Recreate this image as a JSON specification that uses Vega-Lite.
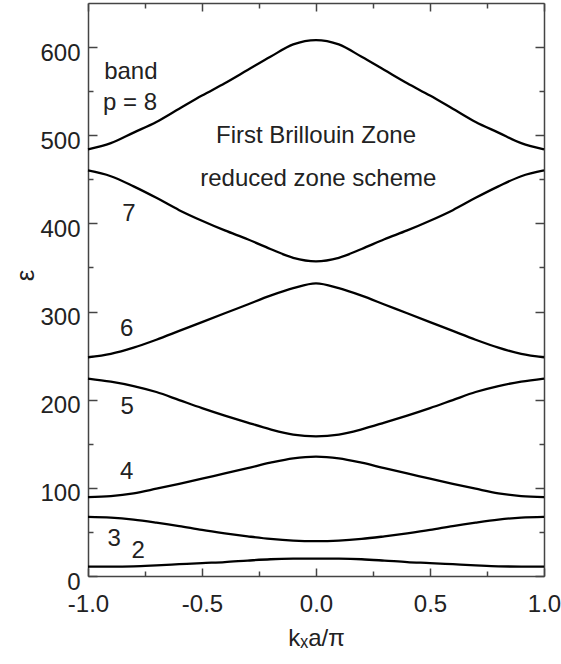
{
  "$schema": "https://vega.github.io/schema/vega-lite/v6.json",
  "width": 456,
  "height": 573,
  "autosize": "none",
  "padding": {"left": 88, "top": 3, "right": 17, "bottom": 88},
  "config": {
    "view": {"stroke": null},
    "font": "Liberation Sans",
    "axis": {
      "grid": false,
      "domainColor": "#444444",
      "domainWidth": 1.5,
      "tickColor": "#444444",
      "tickWidth": 1.5,
      "labelFont": "Liberation Sans",
      "labelFontSize": 24,
      "labelColor": "#222222",
      "titleFont": "Liberation Sans",
      "titleFontSize": 24,
      "titleFontWeight": "normal",
      "titleColor": "#222222",
      "labelFlush": false,
      "labelOverlap": false
    }
  },
  "datasets": {
    "bands": [
      {"band": 8, "k": -1.0, "e": 484}, {"band": 8, "k": -0.9, "e": 491}, {"band": 8, "k": -0.8, "e": 503}, {"band": 8, "k": -0.7, "e": 515}, {"band": 8, "k": -0.6, "e": 530}, {"band": 8, "k": -0.5, "e": 545}, {"band": 8, "k": -0.4, "e": 559}, {"band": 8, "k": -0.3, "e": 574}, {"band": 8, "k": -0.2, "e": 589}, {"band": 8, "k": -0.1, "e": 603}, {"band": 8, "k": 0.0, "e": 608},
      {"band": 8, "k": 0.1, "e": 603}, {"band": 8, "k": 0.2, "e": 589}, {"band": 8, "k": 0.3, "e": 574}, {"band": 8, "k": 0.4, "e": 559}, {"band": 8, "k": 0.5, "e": 545}, {"band": 8, "k": 0.6, "e": 530}, {"band": 8, "k": 0.7, "e": 515}, {"band": 8, "k": 0.8, "e": 503}, {"band": 8, "k": 0.9, "e": 491}, {"band": 8, "k": 1.0, "e": 484},

      {"band": 7, "k": -1.0, "e": 460}, {"band": 7, "k": -0.9, "e": 453.5}, {"band": 7, "k": -0.8, "e": 442}, {"band": 7, "k": -0.7, "e": 429}, {"band": 7, "k": -0.6, "e": 415}, {"band": 7, "k": -0.5, "e": 403}, {"band": 7, "k": -0.4, "e": 392}, {"band": 7, "k": -0.3, "e": 382}, {"band": 7, "k": -0.2, "e": 371}, {"band": 7, "k": -0.1, "e": 361}, {"band": 7, "k": 0.0, "e": 357},
      {"band": 7, "k": 0.1, "e": 361}, {"band": 7, "k": 0.2, "e": 371}, {"band": 7, "k": 0.3, "e": 382}, {"band": 7, "k": 0.4, "e": 392}, {"band": 7, "k": 0.5, "e": 403}, {"band": 7, "k": 0.6, "e": 415}, {"band": 7, "k": 0.7, "e": 429}, {"band": 7, "k": 0.8, "e": 442}, {"band": 7, "k": 0.9, "e": 453.5}, {"band": 7, "k": 1.0, "e": 460},

      {"band": 6, "k": -1.0, "e": 248}, {"band": 6, "k": -0.9, "e": 252}, {"band": 6, "k": -0.8, "e": 259}, {"band": 6, "k": -0.7, "e": 268}, {"band": 6, "k": -0.6, "e": 278}, {"band": 6, "k": -0.5, "e": 288}, {"band": 6, "k": -0.4, "e": 298}, {"band": 6, "k": -0.3, "e": 308}, {"band": 6, "k": -0.2, "e": 318}, {"band": 6, "k": -0.1, "e": 326.5}, {"band": 6, "k": 0.0, "e": 332},
      {"band": 6, "k": 0.1, "e": 326.5}, {"band": 6, "k": 0.2, "e": 318}, {"band": 6, "k": 0.3, "e": 308}, {"band": 6, "k": 0.4, "e": 298}, {"band": 6, "k": 0.5, "e": 288}, {"band": 6, "k": 0.6, "e": 278}, {"band": 6, "k": 0.7, "e": 268}, {"band": 6, "k": 0.8, "e": 259}, {"band": 6, "k": 0.9, "e": 252}, {"band": 6, "k": 1.0, "e": 248},

      {"band": 5, "k": -1.0, "e": 224}, {"band": 5, "k": -0.9, "e": 220.5}, {"band": 5, "k": -0.8, "e": 215.5}, {"band": 5, "k": -0.7, "e": 208.7}, {"band": 5, "k": -0.6, "e": 199.6}, {"band": 5, "k": -0.5, "e": 190.5}, {"band": 5, "k": -0.4, "e": 182}, {"band": 5, "k": -0.3, "e": 174}, {"band": 5, "k": -0.2, "e": 166.4}, {"band": 5, "k": -0.1, "e": 160.5}, {"band": 5, "k": 0.0, "e": 158.5},
      {"band": 5, "k": 0.1, "e": 160.5}, {"band": 5, "k": 0.2, "e": 166.4}, {"band": 5, "k": 0.3, "e": 174}, {"band": 5, "k": 0.4, "e": 182}, {"band": 5, "k": 0.5, "e": 190.5}, {"band": 5, "k": 0.6, "e": 199.6}, {"band": 5, "k": 0.7, "e": 208.7}, {"band": 5, "k": 0.8, "e": 215.5}, {"band": 5, "k": 0.9, "e": 220.5}, {"band": 5, "k": 1.0, "e": 224},

      {"band": 4, "k": -1.0, "e": 89.5}, {"band": 4, "k": -0.9, "e": 90.7}, {"band": 4, "k": -0.8, "e": 93.8}, {"band": 4, "k": -0.7, "e": 99}, {"band": 4, "k": -0.6, "e": 104.5}, {"band": 4, "k": -0.5, "e": 110.5}, {"band": 4, "k": -0.4, "e": 116.3}, {"band": 4, "k": -0.3, "e": 122.3}, {"band": 4, "k": -0.2, "e": 128.5}, {"band": 4, "k": -0.1, "e": 133.5}, {"band": 4, "k": 0.0, "e": 135.5},
      {"band": 4, "k": 0.1, "e": 133.5}, {"band": 4, "k": 0.2, "e": 128.5}, {"band": 4, "k": 0.3, "e": 122.3}, {"band": 4, "k": 0.4, "e": 116.3}, {"band": 4, "k": 0.5, "e": 110.5}, {"band": 4, "k": 0.6, "e": 104.5}, {"band": 4, "k": 0.7, "e": 99}, {"band": 4, "k": 0.8, "e": 93.8}, {"band": 4, "k": 0.9, "e": 90.7}, {"band": 4, "k": 1.0, "e": 89.5},

      {"band": 3, "k": -1.0, "e": 67}, {"band": 3, "k": -0.9, "e": 66.2}, {"band": 3, "k": -0.8, "e": 64}, {"band": 3, "k": -0.7, "e": 60.6}, {"band": 3, "k": -0.6, "e": 56.7}, {"band": 3, "k": -0.5, "e": 52.2}, {"band": 3, "k": -0.4, "e": 48.4}, {"band": 3, "k": -0.3, "e": 45}, {"band": 3, "k": -0.2, "e": 42}, {"band": 3, "k": -0.1, "e": 40.1}, {"band": 3, "k": 0.0, "e": 39.5},
      {"band": 3, "k": 0.1, "e": 40.1}, {"band": 3, "k": 0.2, "e": 42}, {"band": 3, "k": 0.3, "e": 45}, {"band": 3, "k": 0.4, "e": 48.4}, {"band": 3, "k": 0.5, "e": 52.2}, {"band": 3, "k": 0.6, "e": 56.7}, {"band": 3, "k": 0.7, "e": 60.6}, {"band": 3, "k": 0.8, "e": 64}, {"band": 3, "k": 0.9, "e": 66.2}, {"band": 3, "k": 1.0, "e": 67},

      {"band": 2, "k": -1.0, "e": 10.7}, {"band": 2, "k": -0.9, "e": 10.7}, {"band": 2, "k": -0.8, "e": 11}, {"band": 2, "k": -0.7, "e": 12.1}, {"band": 2, "k": -0.6, "e": 13.4}, {"band": 2, "k": -0.5, "e": 14.7}, {"band": 2, "k": -0.4, "e": 15.8}, {"band": 2, "k": -0.3, "e": 17.5}, {"band": 2, "k": -0.2, "e": 19}, {"band": 2, "k": -0.1, "e": 19.6}, {"band": 2, "k": 0.0, "e": 19.7},
      {"band": 2, "k": 0.1, "e": 19.6}, {"band": 2, "k": 0.2, "e": 19}, {"band": 2, "k": 0.3, "e": 17.5}, {"band": 2, "k": 0.4, "e": 15.8}, {"band": 2, "k": 0.5, "e": 14.7}, {"band": 2, "k": 0.6, "e": 13.4}, {"band": 2, "k": 0.7, "e": 12.1}, {"band": 2, "k": 0.8, "e": 11}, {"band": 2, "k": 0.9, "e": 10.7}, {"band": 2, "k": 1.0, "e": 10.7}
    ],
    "notes": [
      {"k": 0.0, "e": 491.6, "label": "First Brillouin Zone"},
      {"k": 0.01, "e": 442.3, "label": "reduced zone scheme"},
      {"k": -0.812, "e": 563.6, "label": "band"},
      {"k": -0.816, "e": 529, "label": "p = 8"},
      {"k": -0.821, "e": 402.6, "label": "7"},
      {"k": -0.83, "e": 272.2, "label": "6"},
      {"k": -0.828, "e": 183.4, "label": "5"},
      {"k": -0.83, "e": 109.7, "label": "4"},
      {"k": -0.885, "e": 34, "label": "3"},
      {"k": -0.78, "e": 20.9, "label": "2"}
    ]
  },
  "layer": [
    {
      "data": {"name": "bands"},
      "mark": {"type": "line", "interpolate": "monotone", "color": "#000000", "strokeWidth": 2.3},
      "encoding": {
        "x": {
          "field": "k", "type": "quantitative",
          "scale": {"domain": [-1, 1], "nice": false, "zero": false},
          "axis": {
            "orient": "bottom",
            "values": [-1, -0.75, -0.5, -0.25, 0, 0.25, 0.5, 0.75, 1],
            "labelExpr": "abs(datum.value * 2 - round(datum.value * 2)) < 1e-6 ? (datum.value < 0 ? '-' : '') + format(abs(datum.value), '.1f') : ''",
            "tickSize": {"condition": {"test": "abs(datum.value * 2 - round(datum.value * 2)) < 1e-6", "value": -8}, "value": -5},
            "labelPadding": 24.5,
            "title": "kₓa/π",
            "titleX": 228,
            "titleY": 69,
            "titleAlign": "center",
            "titleBaseline": "alphabetic"
          }
        },
        "y": {
          "field": "e", "type": "quantitative",
          "scale": {"domain": [0, 650], "nice": false},
          "axis": {
            "orient": "left",
            "values": [0, 50, 100, 150, 200, 250, 300, 350, 400, 450, 500, 550, 600],
            "labelExpr": "datum.value % 100 === 0 ? format(datum.value, 'd') : ''",
            "tickSize": {"condition": {"test": "datum.value % 100 === 0", "value": -9}, "value": -5},
            "labelPadding": 17,
            "labelOffset": 6,
            "title": "ε",
            "titleAngle": -90,
            "titleFontSize": 26,
            "titleX": -63,
            "titleY": 272,
            "titleAlign": "center",
            "titleBaseline": "middle"
          }
        },
        "detail": {"field": "band", "type": "nominal"},
        "order": {"field": "k", "type": "quantitative"}
      }
    },
    {
      "data": {"name": "notes"},
      "mark": {"type": "text", "align": "center", "baseline": "alphabetic", "font": "Liberation Sans", "fontSize": 24, "color": "#222222"},
      "encoding": {
        "x": {
          "field": "k", "type": "quantitative",
          "axis": {
            "orient": "top",
            "values": [-1, -0.75, -0.5, -0.25, 0, 0.25, 0.5, 0.75, 1],
            "labels": false,
            "tickSize": {"condition": {"test": "abs(datum.value * 2 - round(datum.value * 2)) < 1e-6", "value": -8}, "value": -5},
            "title": null
          }
        },
        "y": {
          "field": "e", "type": "quantitative",
          "axis": {
            "orient": "right",
            "values": [0, 50, 100, 150, 200, 250, 300, 350, 400, 450, 500, 550, 600],
            "labels": false,
            "tickSize": {"condition": {"test": "datum.value % 100 === 0", "value": -9}, "value": -5},
            "title": null
          }
        },
        "text": {"field": "label", "type": "nominal"}
      }
    }
  ],
  "resolve": {"axis": {"x": "independent", "y": "independent"}}
}
